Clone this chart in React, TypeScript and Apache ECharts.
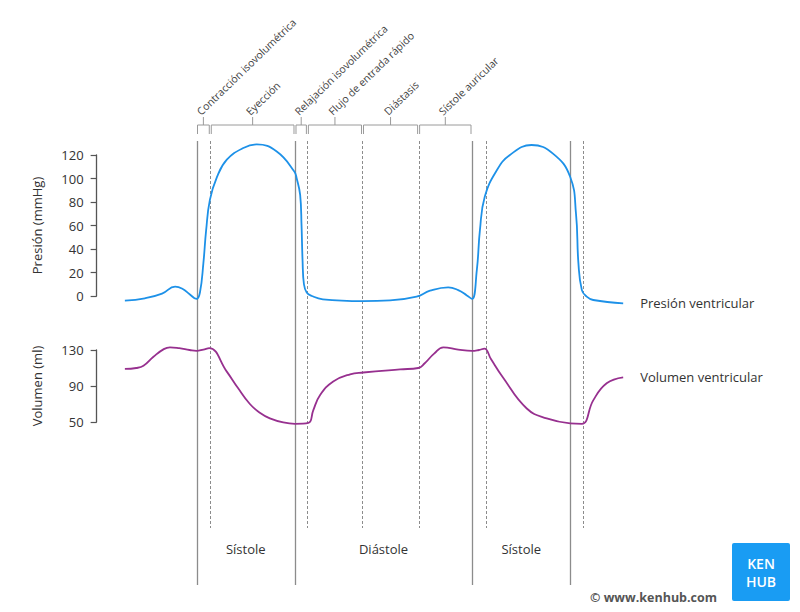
import React, { useEffect, useRef } from 'react';
import * as echarts from 'echarts';

// time in ms (0 = start of isovolumetric contraction)
const pressureT = [-208, -150, -100, -62, -40, -20, 0, 10, 20, 28, 39, 59, 88, 136, 175, 233, 284, 291, 301, 305, 308, 312, 320, 335, 367, 483, 562, 639, 678, 731, 760, 785, 800, 814, 823, 837, 872, 910, 973, 1036, 1085, 1102, 1109, 1119, 1133, 1152, 1239];
const pressureV = [-4, -2, 2, 8, 6, 1.5, -2.5, 3, 28, 56, 82, 101, 116, 126, 129, 123, 106, 100, 86, 60, 30, 10, 3, 0, -2.8, -4.3, -3.8, -0.6, 4.5, 7.4, 5, 0.5, -2.5, 22, 56, 84.5, 107, 120, 128.5, 121, 101.5, 70, 28, 5, -0.5, -3.4, -6.2];

const volumeT = [-208, -175, -154, -125, -95, -77, -50, -20, 0, 20, 37, 88, 120, 155, 185, 213, 252, 286, 325, 339, 359, 397, 446, 484, 591, 644, 662, 690, 717, 760, 800, 820, 836, 855, 889, 959, 1017, 1085, 1119, 1152, 1191, 1239];
const volumeV = [109, 110, 112.5, 122.5, 131, 133, 132, 130, 129, 130.5, 132, 106, 88, 70, 60, 54, 49.5, 48, 49, 63, 80, 95, 103, 105, 108.5, 110, 115, 126, 133, 130.5, 129, 130, 131.5, 120, 100, 65, 54, 48.5, 48, 74, 93, 99.7];

const pressureTicks = [0, 20, 40, 60, 80, 100, 120];
const volumeTicks = [50, 90, 130];

const solidEvents = [0, 286, 800, 1086];
const dashedEvents = [40, 322, 482, 645, 840, 1122];

const phaseStarts = [0, 40, 286, 322, 482, 645];
const phaseEnds = [40, 286, 322, 482, 645, 800];
const phaseNames = ['Contracción isovolumétrica', 'Eyección', 'Relajación isovolumétrica', 'Flujo de entrada rápido', 'Diástasis', 'Sístole auricular'];

const periodStarts = [0, 286, 800];
const periodEnds = [286, 800, 1086];
const periodNames = ['Sístole', 'Diástole', 'Sístole'];

const X_MIN = -290;
const X_MAX = 1400;
const PX_PER_MS = 275.5 / 800;
const GRID_LEFT = 196.5 + X_MIN * PX_PER_MS;
const GRID_W = (X_MAX - X_MIN) * PX_PER_MS;

const FONT = '"Open Sans", "Noto Sans", sans-serif';
const BLUE = '#1d91e8';
const PURPLE = '#97308f';
const GRAY = '#8c8c8c';

export default function App() {
  const ref = useRef<HTMLDivElement>(null);
  useEffect(() => {
    if (!ref.current) return;
    const chart = echarts.init(ref.current, null, { renderer: 'svg' });
    const axisCommon = {
      type: 'value',
      nameLocation: 'middle',
      nameGap: 53,
      nameTextStyle: { fontSize: 13, color: '#333', fontFamily: FONT },
      axisLine: { show: true, onZero: false, lineStyle: { color: '#555', width: 1.3 } },
      axisTick: { show: true, length: 6, lineStyle: { color: '#555', width: 1.2 } },
      axisLabel: { fontSize: 13, color: '#333', margin: 13, fontFamily: FONT },
      splitLine: { show: false },
    };
    const option: any = {
      animation: false,
      backgroundColor: '#ffffff',
      textStyle: { fontFamily: FONT },
      grid: [
        { left: GRID_LEFT, width: GRID_W, top: 155, height: 141 },
        { left: GRID_LEFT, width: GRID_W, top: 350, height: 72 },
      ],
      xAxis: [
        { gridIndex: 0, type: 'value', min: X_MIN, max: X_MAX, show: false },
        { gridIndex: 1, type: 'value', min: X_MIN, max: X_MAX, show: false },
      ],
      yAxis: [
        {
          ...axisCommon,
          gridIndex: 0,
          min: pressureTicks[0],
          max: pressureTicks[pressureTicks.length - 1],
          interval: pressureTicks[1] - pressureTicks[0],
          name: 'Presión (mmHg)',
        },
        {
          ...axisCommon,
          gridIndex: 1,
          min: volumeTicks[0],
          max: volumeTicks[volumeTicks.length - 1],
          interval: volumeTicks[1] - volumeTicks[0],
          name: 'Volumen (ml)',
        },
      ],
      series: [
        {
          type: 'line',
          xAxisIndex: 0,
          yAxisIndex: 0,
          data: pressureT.map((t, i) => [t, pressureV[i]]),
          smooth: 0.45,
          showSymbol: false,
          clip: false,
          lineStyle: { color: BLUE, width: 1.8 },
          endLabel: { show: true, formatter: 'Presión ventricular', distance: 17, fontSize: 13, color: '#333', fontFamily: FONT },
        },
        {
          type: 'line',
          xAxisIndex: 1,
          yAxisIndex: 1,
          data: volumeT.map((t, i) => [t, volumeV[i]]),
          smooth: 0.45,
          showSymbol: false,
          clip: false,
          lineStyle: { color: PURPLE, width: 1.8 },
          endLabel: { show: true, formatter: 'Volumen ventricular', distance: 17, fontSize: 13, color: '#333', fontFamily: FONT },
        },
      ],
    };
    chart.setOption(option);

    const px = (t: number) => chart.convertToPixel({ xAxisIndex: 0 }, t) as number;
    const g: any[] = [];
    solidEvents.forEach((t) => {
      const x = Math.round(px(t)) + 0.5;
      g.push({ type: 'line', shape: { x1: x, y1: 141, x2: x, y2: 585 }, style: { stroke: GRAY, lineWidth: 1.3 } });
    });
    dashedEvents.forEach((t) => {
      const x = Math.round(px(t)) + 0.5;
      g.push({ type: 'line', shape: { x1: x, y1: 141, x2: x, y2: 528 }, style: { stroke: GRAY, lineWidth: 1, lineDash: [3, 2] } });
    });
    phaseNames.forEach((name, i) => {
      const x1 = px(phaseStarts[i]) + 1;
      const x2 = px(phaseEnds[i]) - 1;
      const mid = (x1 + x2) / 2;
      g.push({ type: 'polyline', shape: { points: [[x1, 134], [x1, 125], [x2, 125], [x2, 134]] }, style: { stroke: '#9a9a9a', lineWidth: 1, fill: null } });
      g.push({ type: 'line', shape: { x1: mid, y1: 125, x2: mid, y2: 117 }, style: { stroke: '#9a9a9a', lineWidth: 1 } });
      g.push({
        type: 'text',
        x: mid - 1,
        y: 117,
        rotation: (44 * Math.PI) / 180,
        style: { text: name, fontSize: 10.5, fill: '#444', align: 'left', verticalAlign: 'bottom', fontFamily: FONT },
      });
    });
    periodNames.forEach((name, i) => {
      const mid = (px(periodStarts[i]) + px(periodEnds[i])) / 2;
      g.push({ type: 'text', x: mid, y: 549, style: { text: name, fontSize: 13, fill: '#333', align: 'center', verticalAlign: 'middle', fontFamily: FONT } });
    });
    // logo & credit
    g.push({ type: 'rect', shape: { x: 732, y: 543, width: 58, height: 58, r: 2 }, style: { fill: '#199cf3' } });
    g.push({ type: 'text', x: 761, y: 563, style: { text: 'KEN', fontSize: 14, fontWeight: 600, fill: '#fff', align: 'center', verticalAlign: 'middle', fontFamily: FONT } });
    g.push({ type: 'text', x: 761, y: 581.5, style: { text: 'HUB', fontSize: 14, fontWeight: 600, fill: '#fff', align: 'center', verticalAlign: 'middle', fontFamily: FONT } });
    g.push({ type: 'text', x: 590, y: 597, style: { text: '© www.kenhub.com', fontSize: 12.5, fontWeight: 700, fill: '#555', align: 'left', verticalAlign: 'middle', fontFamily: FONT } });
    chart.setOption({ graphic: g });

    return () => chart.dispose();
  }, []);
  return <div ref={ref} style={{ position: 'absolute', left: 0, top: 0, width: 800, height: 612 }} />;
}
